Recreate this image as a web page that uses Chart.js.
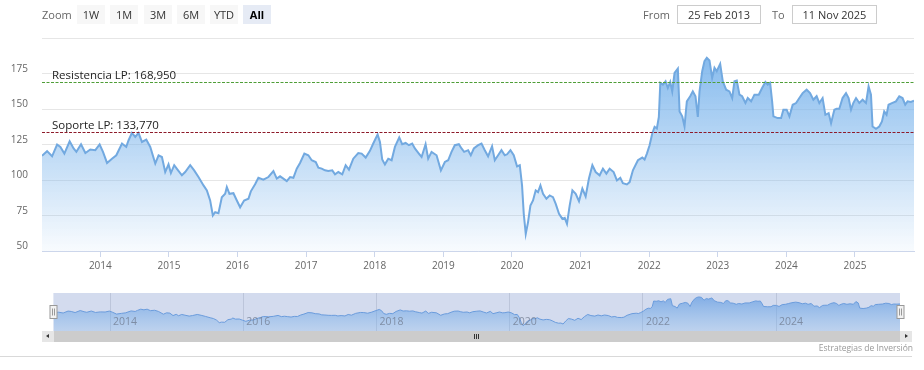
<!DOCTYPE html>
<html><head><meta charset="utf-8">
<script src="https://cdn.jsdelivr.net/npm/chart.js@4/dist/chart.umd.min.js"></script>
<style>
html,body{margin:0;padding:0;background:#fff;}
#wrap{position:relative;width:924px;height:370px;overflow:hidden;font-family:"Open Sans",sans-serif;background:#fff;}
canvas{position:absolute;left:0;}
.lbl{position:absolute;top:5px;color:#666;font-size:11px;line-height:19px;}
.btn{position:absolute;top:5px;height:19px;width:28px;line-height:19px;background:#f7f7f7;color:#333;font-size:11px;text-align:center;}
.btn.sel{background:#e6ebf5;font-weight:bold;color:#000;}
.inp{position:absolute;top:5px;height:17px;border:1px solid #ccc;font-size:11px;color:#333;text-align:center;line-height:17px;}
.sb{position:absolute;top:331px;height:11px;}
</style></head>
<body><div id="wrap">
<canvas id="main" width="924" height="290" style="top:0"></canvas>
<canvas id="nav" width="924" height="60" style="top:280px"></canvas>
<div class="lbl" style="left:42px">Zoom</div>
<div id="btns"></div>
<div class="lbl" style="left:643px">From</div>
<div class="inp" id="fromBox" style="left:677px;width:82px"></div>
<div class="lbl" style="left:772px">To</div>
<div class="inp" id="toBox" style="left:792px;width:83px"></div>
<div class="sb" style="left:42px;width:12px;background:#e6e6e6"><div style="position:absolute;left:4px;top:3px;width:0;height:0;border-top:2.5px solid transparent;border-bottom:2.5px solid transparent;border-right:3px solid #333"></div></div>
<div class="sb" style="left:54px;width:846px;background:#cccccc">
 <div style="position:absolute;left:420px;top:3px;width:1px;height:5px;background:#333"></div>
 <div style="position:absolute;left:422px;top:3px;width:1px;height:5px;background:#333"></div>
 <div style="position:absolute;left:424px;top:3px;width:1px;height:5px;background:#333"></div>
</div>
<div class="sb" style="left:900px;width:12px;background:#e6e6e6"><div style="position:absolute;left:5px;top:3px;width:0;height:0;border-top:2.5px solid transparent;border-bottom:2.5px solid transparent;border-left:3px solid #333"></div></div>
<div style="position:absolute;right:11px;top:342px;font-size:8.5px;color:#999;line-height:12px">Estrategias de Inversión</div>
<div style="position:absolute;left:0;top:356px;width:912px;height:1px;background:#d9d9d9"></div>
</div>
<script>
// ---- data ----
const dates = [
2013.15,2013.224,2013.297,2013.37,2013.418,2013.476,2013.553,2013.611,2013.651,2013.719,2013.782,2013.854,2013.927,2013.99,
2014.039,2014.098,2014.17,2014.233,2014.316,2014.378,2014.412,2014.461,2014.509,2014.557,2014.607,2014.67,2014.728,2014.801,2014.849,2014.898,2014.946,2014.994,
2015.029,2015.077,2015.125,2015.189,2015.237,2015.31,2015.368,2015.431,2015.504,2015.553,2015.601,2015.64,2015.674,2015.722,2015.771,2015.82,2015.844,2015.882,2015.94,2015.99,
2016.038,2016.096,2016.159,2016.194,2016.256,2016.304,2016.377,2016.45,2016.523,2016.572,2016.62,2016.668,2016.718,2016.766,2016.814,2016.863,2016.911,2016.974,
2017.032,2017.081,2017.14,2017.178,2017.227,2017.275,2017.323,2017.381,2017.421,2017.469,2017.527,2017.576,2017.624,2017.687,2017.76,2017.809,2017.868,2017.93,2017.978,
2018.042,2018.076,2018.109,2018.148,2018.197,2018.246,2018.294,2018.357,2018.4,2018.45,2018.498,2018.546,2018.585,2018.643,2018.683,2018.741,2018.779,2018.828,2018.901,2018.964,
2019.022,2019.07,2019.119,2019.167,2019.226,2019.265,2019.303,2019.361,2019.4,2019.444,2019.507,2019.556,2019.604,2019.652,2019.71,2019.75,2019.798,2019.847,2019.895,2019.929,2019.978,
2020.026,2020.074,2020.114,2020.147,2020.172,2020.201,2020.234,2020.269,2020.307,2020.346,2020.38,2020.415,2020.453,2020.502,2020.55,2020.598,2020.638,2020.686,2020.735,2020.769,2020.802,2020.841,2020.881,2020.929,2020.977,
2021.026,2021.074,2021.122,2021.172,2021.22,2021.278,2021.326,2021.376,2021.424,2021.482,2021.53,2021.579,2021.617,2021.675,2021.715,2021.763,2021.836,2021.9,2021.933,2021.967,
2022.006,2022.045,2022.079,2022.112,2022.141,2022.162,2022.2,2022.239,2022.272,2022.307,2022.336,2022.37,2022.418,2022.443,2022.482,2022.515,2022.549,2022.598,2022.636,2022.675,2022.709,2022.734,2022.773,2022.806,2022.84,2022.879,2022.918,2022.952,2022.985,
2023.035,2023.073,2023.122,2023.17,2023.21,2023.243,2023.277,2023.316,2023.355,2023.403,2023.437,2023.486,2023.534,2023.597,2023.646,2023.694,2023.728,2023.763,2023.792,2023.811,2023.873,2023.923,2023.956,
2024.004,2024.044,2024.092,2024.141,2024.189,2024.237,2024.295,2024.345,2024.393,2024.441,2024.48,2024.528,2024.568,2024.616,2024.651,2024.699,2024.732,2024.771,2024.819,2024.869,2024.907,2024.942,2024.975,
2025.015,2025.063,2025.111,2025.16,2025.198,2025.233,2025.256,2025.306,2025.354,2025.393,2025.426,2025.46,2025.489,2025.538,2025.597,2025.645,2025.693,2025.732,2025.766,2025.815,2025.86
];
const prices = [
117,120.3,116.7,125,123.3,118.6,127.3,122.2,119.8,125.2,119,121.5,121,125,
119.8,112,115,117.4,125.7,123.3,128,133.2,130.4,133.2,126.8,128.5,123.3,111.6,117.4,116.2,105.6,111,
104.9,110.4,107.3,103.3,105.6,110.4,106.8,102.1,96.2,92.7,85.6,75,77.3,76.6,87.9,90.3,95,90.3,90.7,85.6,
80.8,85.6,86.8,92,97,101.6,100.2,102.1,106.3,101,102.6,101,99.2,102.1,101.6,108,112,118.6,
117.4,113.9,112.7,108.7,108,106.8,106.3,106.8,104,105.6,104,110.4,107.3,115,119,118.6,115.8,120.5,125.7,
132.1,126.8,114.4,111,115,113.9,123.3,130,125.2,126.1,124.5,125.7,122.2,118.6,116.2,125.2,115,119.8,117.4,106.8,
112.7,113.9,119.8,124.5,125.2,122.2,119.8,121,117.4,122.2,124.5,125.7,121,116.7,123.8,113.9,117.4,121,117.4,118.1,121,
117.4,109.6,110.4,96.2,76.2,62,70.2,82,85.6,92.7,91.5,96.2,90.3,86.8,89.1,87.9,83.2,76.2,72.6,73.3,69.1,82,92.7,90.3,85.1,
93.9,88.4,101,110.4,105.6,103.3,108,104.5,108,105.6,99.7,101.6,97.8,96.9,98.5,106.8,113.9,115.8,114.4,118.6,
124.5,132.8,137.5,136.3,144.5,168.4,167.2,169.5,164.8,169,162.4,175.4,178.5,148.3,144.8,137.7,155.4,159,162.4,159,144.5,162.4,176.6,183.7,186,184.2,171.9,179,176.6,
181.8,169.5,163.6,162.4,157.7,169.5,170,160.1,159,154.2,157.7,155.4,160.1,160.1,164.8,169,167.2,168.4,155.4,144.8,143.6,143.6,149.5,
149.5,144.8,153,154.2,157.7,161.2,163.6,161.2,156.5,159,154.2,157.7,145.9,147.1,140,149.5,150.2,150.2,157.7,161.2,157.7,149.5,154.2,
157.7,154.2,156.5,154.2,166,160.1,137.7,136,137.7,141.2,148.3,146,153,154.2,155.4,159,157.7,153,155.4,154.9,155.8
];
const yTicks = [50, 75, 100, 125, 150, 175, 200];
const xYears = [2014,2015,2016,2017,2018,2019,2020,2021,2022,2023,2024,2025];
const navYears = [2014,2016,2018,2020,2022,2024];
const levelNames = ['Resistencia LP', 'Soporte LP'];
const levelValues = [168.95, 133.77];
const rangeStart = 2013.15, rangeEnd = 2025.86;
const fromLabel = '25 Feb 2013', toLabel = '11 Nov 2025';
const zoomButtons = ['1W','1M','3M','6M','YTD','All'];

// ---- UI ----
document.getElementById('fromBox').textContent = fromLabel;
document.getElementById('toBox').textContent = toLabel;
const btnLeft = [77,110,144,177,210,243];
const btns = document.getElementById('btns');
zoomButtons.forEach((b,i)=>{
  const d = document.createElement('div');
  d.className = 'btn' + (b==='All' ? ' sel' : '');
  d.style.left = btnLeft[i] + 'px';
  d.textContent = b;
  btns.appendChild(d);
});

const points = dates.map((d,i)=>({x:d, y:prices[i]}));
const levelColors = ['#4f9e38', '#8e1b2a'];
const fmt = v => v.toFixed(3).replace('.', ',');
const FONT = '"Open Sans", sans-serif';

const levelsPlugin = {
  id: 'levels',
  afterDatasetsDraw(chart) {
    const {ctx, chartArea: a, scales: {y}} = chart;
    levelValues.forEach((v, i) => {
      const py = Math.round(y.getPixelForValue(v)) + 0.5;
      ctx.save();
      ctx.strokeStyle = levelColors[i];
      ctx.lineWidth = 1;
      ctx.setLineDash([3, 1.5]);
      ctx.beginPath(); ctx.moveTo(a.left, py); ctx.lineTo(a.right, py); ctx.stroke();
      ctx.setLineDash([]);
      ctx.fillStyle = '#222';
      ctx.font = '11.5px ' + FONT;
      ctx.textBaseline = 'alphabetic';
      ctx.fillText(levelNames[i] + ': ' + fmt(v), a.left + 10, py - 3.5);
      ctx.restore();
    });
  }
};

new Chart(document.getElementById('main'), {
  type: 'line',
  data: { datasets: [{
    data: points,
    borderColor: '#72a9e0',
    borderWidth: 2,
    pointRadius: 0,
    tension: 0,
    fill: 'start',
    backgroundColor: (c) => {
      const {ctx, chartArea} = c.chart;
      if (!chartArea) return 'rgba(124,181,236,0.5)';
      const g = ctx.createLinearGradient(0, chartArea.top, 0, chartArea.bottom);
      g.addColorStop(0, 'rgba(124,181,236,1)');
      g.addColorStop(1, 'rgba(124,181,236,0.05)');
      return g;
    }
  }]},
  options: {
    responsive: false, animation: false,
    layout: { padding: { top: 38, right: 10, left: 0, bottom: 0 } },
    plugins: { legend: { display: false }, tooltip: { enabled: false } },
    scales: {
      x: {
        type: 'linear', min: rangeStart, max: rangeEnd,
        afterBuildTicks: s => { s.ticks = xYears.map(v => ({value: v})); },
        afterFit: s => { s.height = 39; },
        grid: { drawOnChartArea: false, drawTicks: true, tickLength: 6, color: '#ccd6eb' },
        border: { display: true, color: '#ccd6eb' },
        ticks: { font: { family: FONT, size: 10 }, color: '#666', padding: 3, maxRotation: 0, autoSkip: false, callback: v => String(v) }
      },
      y: {
        min: 50, max: 200,
        afterBuildTicks: s => { s.ticks = yTicks.map(v => ({value: v})); },
        afterFit: s => { s.width = 42; },
        grid: { color: '#e6e6e6', drawTicks: false },
        border: { display: false },
        ticks: { padding: 14, labelOffset: -4.5, color: '#666', font: { family: FONT, size: 10 }, callback: v => v === 200 ? '' : String(v) }
      }
    }
  },
  plugins: [levelsPlugin]
});

const navPlugin = {
  id: 'navdeco',
  beforeDraw(chart) {
    const {ctx, chartArea: a} = chart;
    ctx.save();
    ctx.fillStyle = '#d3dbee';
    ctx.fillRect(a.left, a.top, a.right - a.left, a.bottom - a.top);
    ctx.restore();
  },
  afterDatasetsDraw(chart) {
    const {ctx, chartArea: a, scales: {x}} = chart;
    ctx.save();
    ctx.fillStyle = 'rgba(110,120,140,0.75)';
    ctx.font = '10.5px ' + FONT;
    ctx.textBaseline = 'middle';
    navYears.forEach(yr => {
      ctx.fillText(String(yr), x.getPixelForValue(yr) + 3, 42.5);
    });
    [rangeStart, rangeEnd].forEach(v => {
      const px = Math.round(x.getPixelForValue(v)) + 0.5;
      ctx.fillStyle = '#f2f2f2';
      ctx.strokeStyle = '#999';
      ctx.lineWidth = 1;
      ctx.fillRect(px - 3.5, 25.5, 7, 13);
      ctx.strokeRect(px - 3.5, 25.5, 7, 13);
      ctx.beginPath();
      ctx.moveTo(px - 1, 28.5); ctx.lineTo(px - 1, 35.5);
      ctx.moveTo(px + 1, 28.5); ctx.lineTo(px + 1, 35.5);
      ctx.stroke();
    });
    ctx.restore();
  }
};

new Chart(document.getElementById('nav'), {
  type: 'line',
  data: { datasets: [{
    data: points,
    borderColor: '#6b9cdc',
    borderWidth: 1,
    pointRadius: 0,
    tension: 0,
    fill: 'start',
    backgroundColor: (c) => {
      const {ctx, chartArea} = c.chart;
      if (!chartArea) return 'rgba(100,155,225,0.5)';
      const g = ctx.createLinearGradient(0, chartArea.top, 0, chartArea.bottom);
      g.addColorStop(0, 'rgba(100,155,225,0.8)');
      g.addColorStop(1, 'rgba(124,181,236,0.25)');
      return g;
    }
  }]},
  options: {
    responsive: false, animation: false,
    layout: { padding: { left: 53.4, right: 24, top: 13, bottom: 9 } },
    plugins: { legend: { display: false }, tooltip: { enabled: false } },
    scales: {
      x: {
        type: 'linear', min: rangeStart, max: rangeEnd,
        afterBuildTicks: s => { s.ticks = navYears.map(v => ({value: v})); },
        ticks: { display: false },
        grid: { drawTicks: false, color: '#bcc5da' },
        border: { display: false }
      },
      y: { display: false, min: 39, max: 203 }
    }
  },
  plugins: [navPlugin]
});
</script>
</body></html>
